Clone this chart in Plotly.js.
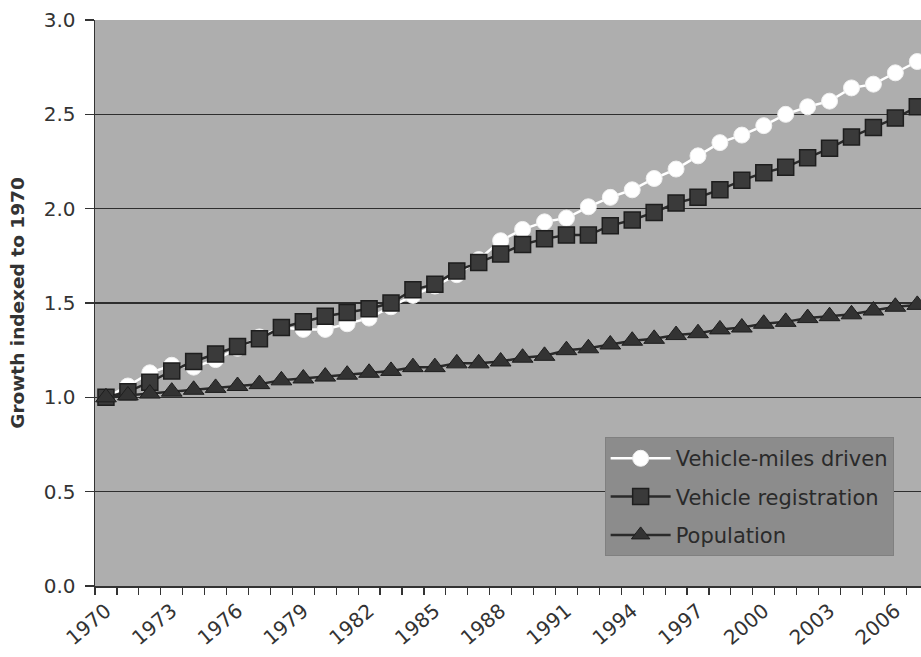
<!DOCTYPE html>
<html>
<head>
<meta charset="utf-8">
<script src="https://cdn.plot.ly/plotly-3.0.1.min.js"></script>
<style>html,body{margin:0;padding:0;background:#fff;overflow:hidden;}#chart{width:921px;height:657px;}</style>
</head>
<body>
<div id="chart"></div>
<script>
const years = [1970,1971,1972,1973,1974,1975,1976,1977,1978,1979,1980,1981,1982,1983,1984,1985,1986,1987,1988,1989,1990,1991,1992,1993,1994,1995,1996,1997,1998,1999,2000,2001,2002,2003,2004,2005,2006,2007];
const vehicleMiles = [1.00,1.06,1.13,1.17,1.16,1.20,1.26,1.32,1.37,1.36,1.36,1.39,1.42,1.48,1.54,1.59,1.65,1.73,1.83,1.89,1.93,1.95,2.01,2.06,2.10,2.16,2.21,2.28,2.35,2.39,2.44,2.50,2.54,2.57,2.64,2.66,2.72,2.78];
const vehicleReg = [1.00,1.03,1.08,1.14,1.19,1.23,1.27,1.31,1.37,1.40,1.43,1.45,1.47,1.50,1.57,1.60,1.67,1.715,1.76,1.81,1.84,1.86,1.86,1.91,1.94,1.98,2.03,2.06,2.10,2.15,2.19,2.22,2.27,2.32,2.38,2.43,2.48,2.54];
const population = [1.00,1.01,1.02,1.03,1.04,1.05,1.06,1.07,1.09,1.10,1.11,1.12,1.13,1.14,1.16,1.16,1.18,1.18,1.19,1.21,1.22,1.25,1.26,1.28,1.30,1.31,1.33,1.34,1.36,1.37,1.39,1.40,1.42,1.43,1.44,1.46,1.48,1.49];
const seriesNames = ["Vehicle-miles driven","Vehicle registration","Population"];
const xTickLabels = ["1970","1973","1976","1979","1982","1985","1988","1991","1994","1997","2000","2003","2006"];
const yTicks = [0,0.5,1.0,1.5,2.0,2.5,3.0];

const traces = [
  {x: years, y: vehicleMiles, name: seriesNames[0], legendgroup:"a", mode:"lines+markers", type:"scatter",
   line:{color:"#ffffff", width:2.5}, marker:{symbol:"circle", size:16, color:"#ffffff", line:{color:"#f0f0f0", width:1}}},
  {x: years, y: vehicleReg, name: seriesNames[1], legendgroup:"b", mode:"lines+markers", type:"scatter",
   line:{color:"#2a2a2a", width:2.5}, marker:{symbol:"square", size:16, color:"#3a3a3a", line:{color:"#1e1e1e", width:1.5}}},
  {x: years, y: population, name: seriesNames[2], legendgroup:"c", mode:"lines+markers", type:"scatter",
   line:{color:"#2a2a2a", width:2.5}, marker:{symbol:"triangle-up", size:18, color:"#333333", line:{color:"#1e1e1e", width:1}}}
];

const layout = {
  width: 921, height: 657,
  margin: {l: 95, r: 0, t: 20, b: 71},
  paper_bgcolor: "#ffffff",
  plot_bgcolor: "#aeaeae",
  font: {family: "DejaVu Sans, sans-serif", color: "#333333", size: 20},
  showlegend: true,
  legend: {
    x: 0.617, y: 0.263, xanchor: "left", yanchor: "top",
    bgcolor: "#8c8c8c", bordercolor: "#808080", borderwidth: 1,
    font: {size: 21, color: "#2a2a2a"}, tracegroupgap: 8,
    itemwidth: 60, entrywidth: 305, entrywidthmode: "pixels"
  },
  xaxis: {
    range: [1969.5, 2007.17],
    tickmode: "array", tickvals: xTickLabels.map(Number), ticktext: xTickLabels,
    tickangle: -40, ticks: "", showgrid: false, zeroline: false,
    showline: true, linecolor: "#333333", linewidth: 1.5,
    tickfont: {size: 20, color: "#333333"},
    ticklabelstandoff: 4,
    minor: {tickmode: "linear", tick0: 1969.5, dtick: 1, ticks: "outside", ticklen: 7, tickcolor: "#333333", tickwidth: 1.2, showgrid: false}
  },
  yaxis: {
    range: [0, 3.0], tickmode: "array", tickvals: yTicks, ticktext: yTicks.map(v => v.toFixed(1)),
    ticks: "outside", ticklen: 9, tickcolor: "#333333", tickwidth: 1.2,
    ticklabelstandoff: 5,
    showgrid: true, gridcolor: "#2e2e2e", gridwidth: 1.5, zeroline: false,
    showline: true, linecolor: "#333333", linewidth: 1.5,
    tickfont: {size: 20, color: "#333333"},
    title: {text: "<b>Growth indexed to 1970</b>", font: {size: 18.5, color: "#333333"}, standoff: 14}
  }
};

Plotly.newPlot("chart", traces, layout, {displayModeBar: false, staticPlot: true});
</script>
</body>
</html>
